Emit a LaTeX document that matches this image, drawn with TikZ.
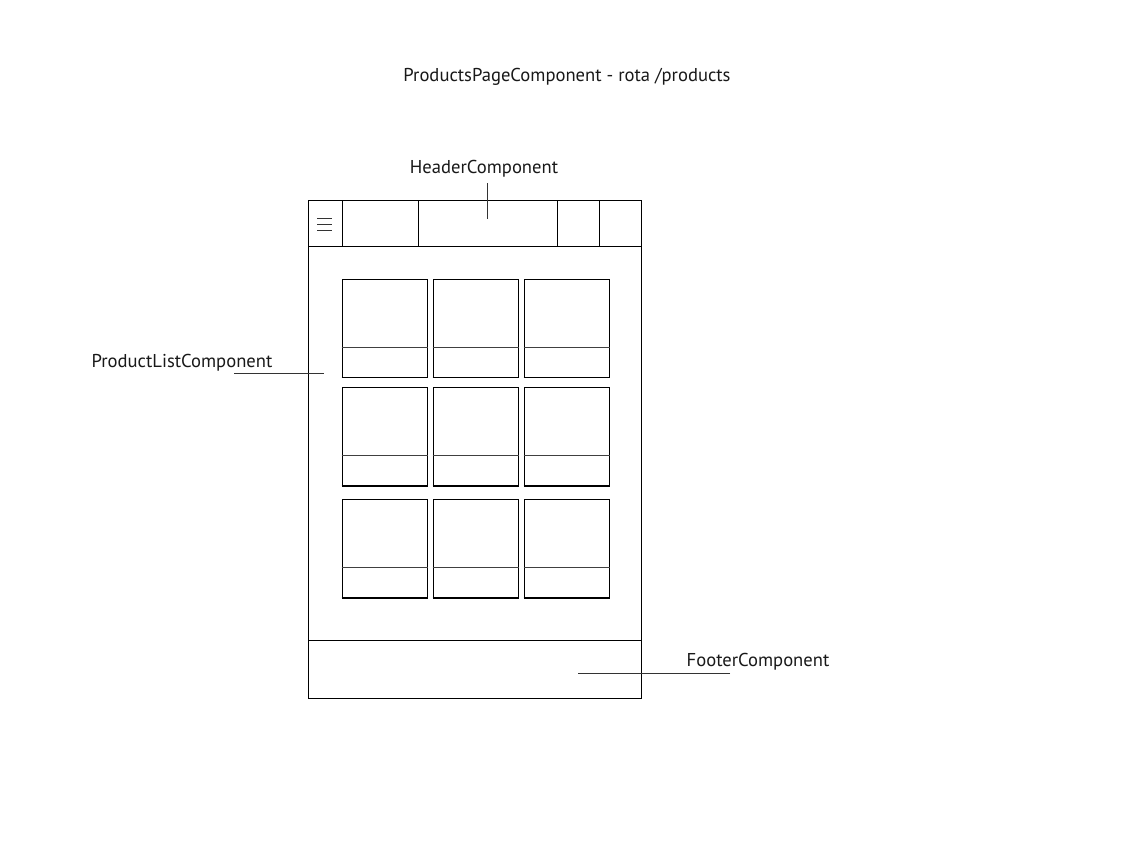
\documentclass[tikz,border=0pt]{standalone}
\usepackage{fontspec}
\setmainfont{PT Sans}
\begin{document}
\begin{tikzpicture}[x=1pt,y=-1pt,
  ln/.style={draw=black,line width=0.9pt},
  glabel/.style={inner sep=0pt,font=\fontsize{18.6}{22}\selectfont,text=black!90},
  card/.style={draw=black,line width=1pt,minimum width=85pt,minimum height=98pt,inner sep=0pt},
  lead/.style={draw=black!80,line width=0.9pt}]
\useasboundingbox (0,0) rectangle (1134,860);
\fill[white] (0,0) rectangle (1134,860);
% title
\node[glabel] (title) at (567,77) {ProductsPageComponent - rota /products};
% frame
\draw[ln] (308,200) rectangle (641,698);
\draw[ln] (308,246) -- (641,246);
\draw[ln] (308,640) -- (641,640);
\foreach \xx in {342,418,557,599} \draw[ln] (\xx,200) -- (\xx,246);
% hamburger
\foreach \yy in {218,224,230} \draw[black!80,line width=0.9pt] (317,\yy) -- (332,\yy);
% cards
\foreach \cx [count=\i] in {384.5,475.5,566.5}{
  \foreach \cy/\dy [count=\j] in {328/347,436.5/455,548.5/567}{
    \node[card] (c\i\j) at (\cx,\cy) {};
    \draw[black!75,line width=1pt] (c\i\j.west |- 0,\dy) -- (c\i\j.east |- 0,\dy);
    \draw[black,line width=1.8pt] (c\i\j.south west) -- (c\i\j.south east);
  }
}
% labels
\node[glabel] (hdr) at (484,169) {HeaderComponent};
\coordinate (hdrA) at (487,183);
\coordinate (hdrB) at (487,219);
\draw[lead] (hdrA) -- (hdrB);
\node[glabel] (plc) at (182,363) {ProductListComponent};
\coordinate (plcA) at (234,373);
\coordinate (plcB) at (324,373);
\draw[lead] (plcA) -- (plcB);
\node[glabel] (ftr) at (758,662) {FooterComponent};
\coordinate (ftrA) at (730,673);
\coordinate (ftrB) at (578,673);
\draw[lead] (ftrA) -- (ftrB);
\end{tikzpicture}
\end{document}
